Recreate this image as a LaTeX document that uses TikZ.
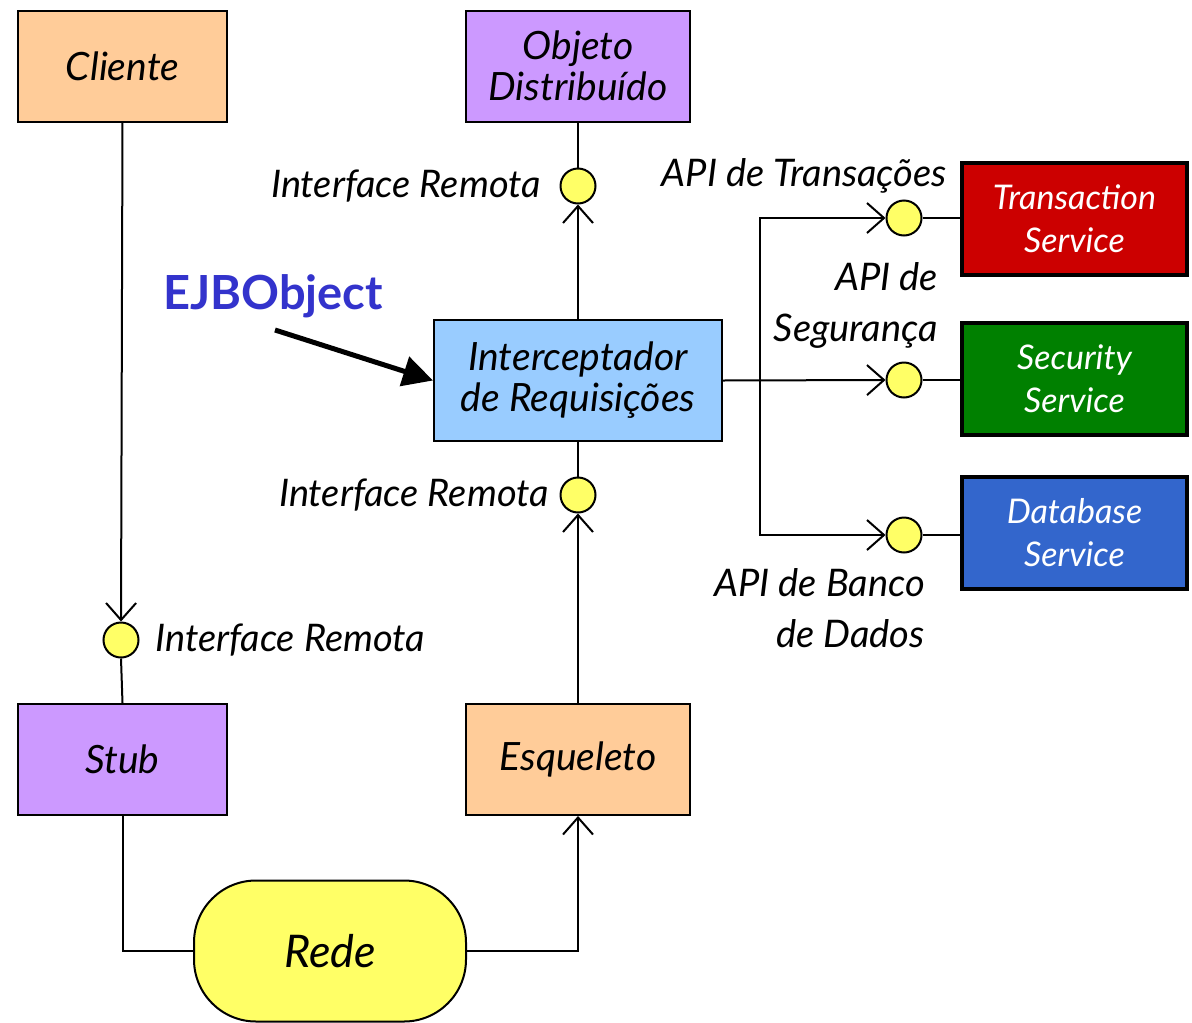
\documentclass[tikz,border=0pt]{standalone}
\usepackage{fontspec}
\setmainfont{Lato}
\usetikzlibrary{arrows.meta}
\definecolor{peach}{HTML}{FFCC99}
\definecolor{lilac}{HTML}{CC99FF}
\definecolor{skyb}{HTML}{99CCFF}
\definecolor{yel}{HTML}{FFFF66}
\definecolor{tred}{HTML}{CC0000}
\definecolor{sgreen}{HTML}{008000}
\definecolor{dblue}{HTML}{3366CC}
\definecolor{ejb}{HTML}{3333CC}
\tikzset{
  box/.style={draw=black, line width=2pt, minimum width=209pt, minimum height=111pt, inner sep=0pt, align=center, font=\fontsize{39}{41}\selectfont\itshape},
  svc/.style={draw=black, line width=3.5pt, minimum width=225pt, minimum height=112pt, inner sep=0pt, align=center, text=white, font=\fontsize{34}{43}\selectfont\itshape},
  iface/.style={circle, draw=black, line width=2pt, fill=yel, minimum size=35pt, inner sep=0pt},
  lbl/.style={inner sep=0pt, font=\fontsize{38}{51}\selectfont\itshape},
  conn/.style={line width=2pt},
  tip/.style={-{Straight Barb[length=17pt,width=30pt]}}
}
\begin{document}
\begin{tikzpicture}[x=1pt,y=-1pt]
\useasboundingbox[fill=white] (0,0) rectangle (1192,1023);
% boxes
\node[box, fill=peach] (cliente) at (122.5,66) {Cliente};
\node[box, fill=lilac, minimum width=224pt] (objeto) at (578,66) {Objeto\\Distribuído};
\node[box, fill=skyb, minimum width=288pt, minimum height=121pt] (inter) at (578,380.5) {Interceptador\\de Requisições};
\node[box, fill=lilac] (stub) at (122.5,759.5) {Stub};
\node[box, fill=peach, minimum width=224pt] (esq) at (578,759.5) {Esqueleto};
\node[draw=black, line width=2pt, fill=yel, rounded corners=62pt, minimum width=272pt, minimum height=141pt, inner sep=0pt, font=\fontsize{45}{50}\selectfont\itshape] (rede) at (330,951) {Rede};
% services
\node[svc, fill=tred] (trans) at (1074.5,219) {Transaction\\Service};
\node[svc, fill=sgreen] (sec) at (1074.5,379) {Security\\Service};
\node[svc, fill=dblue] (db) at (1074.5,533) {Database\\Service};
% interface circles
\node[iface] (c1) at (121,640) {};
\node[iface] (c2) at (578,186) {};
\node[iface] (c3) at (578,495) {};
\node[iface] (c4) at (904,218) {};
\node[iface] (c5) at (904,380) {};
\node[iface] (c6) at (904,535) {};
% labels
\node[lbl, anchor=east] (l2) at (541,186) {Interface Remota};
\node[lbl, anchor=east] (l3) at (549,495) {Interface Remota};
\node[lbl, anchor=west] (l1) at (155,640) {Interface Remota};
\node[lbl, anchor=east] (l4) at (947,176) {API de Transações};
\node[lbl, anchor=east, align=right] (l5) at (938,305) {API de\\Segurança};
\node[lbl, anchor=east, align=right] (l6) at (925,608) {API de Banco\\de Dados};
\node[inner sep=0pt, text=ejb, font=\fontsize{47}{52}\selectfont\bfseries] (ejbl) at (273,296) {EJBObject};
% connectors
\draw[conn, tip] (cliente.south) -- (c1.north);
\draw[conn] (c1.south) -- (stub.north);
\draw[conn] (stub.south) |- (rede.west);
\draw[conn, tip] (rede.east) -| (esq.south);
\draw[conn, tip] (esq.north) -- (c3.south);
\draw[conn] (c3.north) -- (inter.south);
\draw[conn, tip] (inter.north) -- (c2.south);
\draw[conn] (c2.north) -- (objeto.south);
\coordinate (br) at (760,380);
\draw[conn, tip] (inter.east) -- (c5.west);
\draw[conn, tip] (br) |- (c4.west);
\draw[conn, tip] (br) |- (c6.west);
\draw[conn] (c4.east) -- (trans.west |- c4.east);
\draw[conn] (c5.east) -- (sec.west |- c5.east);
\draw[conn] (c6.east) -- (db.west |- c6.east);
\coordinate (ejbtail) at (275,330);
\draw[line width=5pt, -{Triangle[length=30pt,width=30pt]}] (ejbtail) -- (inter.west);
\end{tikzpicture}
\end{document}
